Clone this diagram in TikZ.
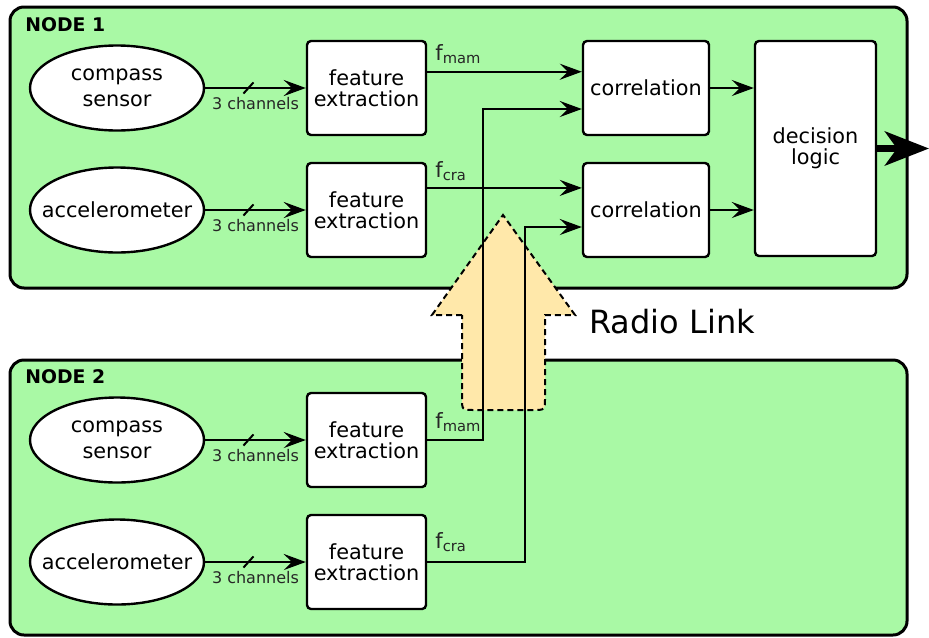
\documentclass[tikz,border=0pt]{standalone}
\usepackage{fontspec}
\setmainfont{DejaVu Sans}
\usetikzlibrary{shapes.geometric,arrows.meta}
\definecolor{nodegreen}{RGB}{169,249,165}
\definecolor{radioyellow}{RGB}{255,232,170}

\begin{document}
\begin{tikzpicture}[x=0.5pt, y=-0.5pt]
 \tikzstyle{cadre}=[draw, fill=nodegreen, line width=1.5pt, rounded corners=7pt, minimum width=448.5pt, minimum height=140.5pt]
 \tikzstyle{capteur}=[ellipse, draw, fill=white, line width=1.2pt, inner xsep=-10pt, inner ysep=0pt, minimum width=87pt, minimum height=42.5pt, align=center, font=\fontsize{10.4}{13}\selectfont]
 \tikzstyle{bloc}=[rectangle, draw, fill=white, line width=1.2pt, rounded corners=2pt, inner sep=0pt, minimum width=59.5pt, minimum height=47pt, align=center, font=\fontsize{10.4}{10.5}\selectfont]
 \tikzstyle{titre}=[anchor=base west, inner sep=0pt, font=\fontsize{9.4}{10}\selectfont\bfseries]
 \tikzstyle{flab}=[anchor=base west, inner sep=0pt, text=black!85, font=\fontsize{10.5}{11}\selectfont]
 \tikzstyle{chan}=[below, inner sep=1.5pt, yshift=-2.5pt, text=black!85, font=\fontsize{8}{9}\selectfont]
 \tikzstyle{slash}=[draw, line width=1pt, inner sep=0pt, minimum width=0pt, minimum height=7.5pt, rotate=-42, pos=0.43]
 \tikzstyle{fleche}=[-{Stealth[length=11pt, width=8pt, inset=4pt]}, line width=1.2pt]
 \tikzstyle{sortie}=[-{Stealth[length=22pt, width=17pt, inset=6pt]}, line width=3.5pt]
 \tikzstyle{radio}=[draw, fill=radioyellow, line width=1pt, dash pattern=on 3pt off 2pt]
 \useasboundingbox (0,0) rectangle (929,637);
 %
 \node[cadre] (N1) at (458.5,147.5) {};
 \node[cadre, minimum height=137.5pt] (N2) at (458.5,497.5) {};
 \node[titre] (t1) at (25,32) {NODE 1};
 \node[titre] (t2) at (25,383) {NODE 2};
 %
 \draw[radio] (462,315) -- (432,315) -- (503,215) -- (575,315) -- (545,315) -- (545,398) .. controls (545,410) .. (533,410) -- (474,410) .. controls (462,410) .. (462,398) -- cycle;
 \node[anchor=base west, inner sep=0pt, font=\fontsize{16}{18}\selectfont] (rl) at (589,333) {Radio Link};
 %
 \node[capteur] (CS1) at (117,88) {compass\\sensor};
 \node[capteur] (AC1) at (117,210) {accelerometer};
 \node[bloc] (FX1a) at (366.5,88) {feature\\extraction};
 \node[bloc] (FX1b) at (366.5,210) {feature\\extraction};
 \node[bloc, minimum width=63pt] (CR1) at (646,88) {correlation};
 \node[bloc, minimum width=63pt] (CR2) at (646,210) {correlation};
 \node[bloc, minimum width=60.5pt, minimum height=107.5pt] (DL) at (815.5,148.5) {decision\\logic};
 %
 \node[capteur] (CS2) at (117,440) {compass\\sensor};
 \node[capteur] (AC2) at (117,562) {accelerometer};
 \node[bloc] (FX2a) at (366.5,440) {feature\\extraction};
 \node[bloc] (FX2b) at (366.5,562) {feature\\extraction};
 %
 \node[flab] (fm1) at (435,60) {f\textsubscript{mam}};
 \node[flab] (fc1) at (435,177) {f\textsubscript{cra}};
 \node[flab] (fm2) at (435,428) {f\textsubscript{mam}};
 \node[flab] (fc2) at (435,548) {f\textsubscript{cra}};
 %
 \coordinate (k1) at (483,109);
 \coordinate (k2) at (525,227);
 \coordinate (out) at (929,148.5);
 %%
 \draw[fleche] (CS1) -- node[chan] {3 channels} node[slash] {} (FX1a);
 \draw[fleche] (AC1) -- node[chan] {3 channels} node[slash] {} (FX1b);
 \draw[fleche] (CS2) -- node[chan] {3 channels} node[slash] {} (FX2a);
 \draw[fleche] (AC2) -- node[chan] {3 channels} node[slash] {} (FX2b);
 \draw[fleche] (FX1a.15) -- (FX1a.15 -| CR1.west);
 \draw[fleche] (FX1b.20) -- (FX1b.20 -| CR2.west);
 \draw[fleche] (FX2a.east) -| (k1) -- (k1 -| CR1.west);
 \draw[fleche] (FX2b.east) -| (k2) -- (k2 -| CR2.west);
 \draw[fleche] (CR1.east) -- (CR1.east -| DL.west);
 \draw[fleche] (CR2.east) -- (CR2.east -| DL.west);
 \draw[sortie] (DL) -- (out);
\end{tikzpicture}
\end{document}
